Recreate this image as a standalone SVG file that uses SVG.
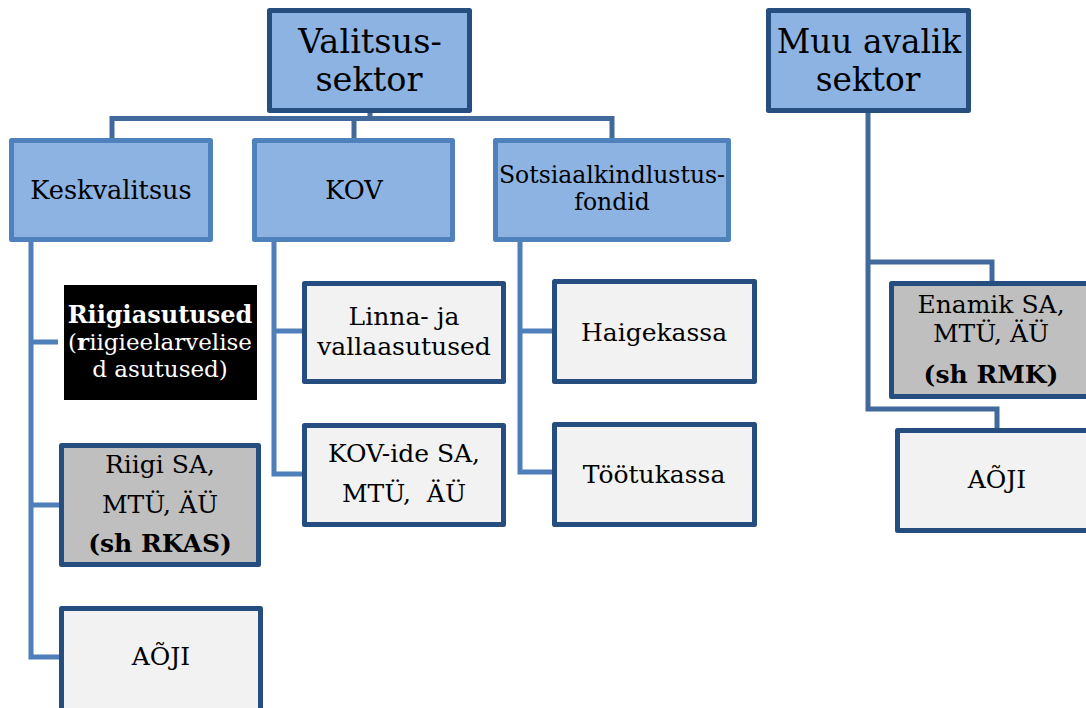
<svg xmlns="http://www.w3.org/2000/svg" width="1086" height="708" viewBox="0 0 1086 708">
<style>
  .t { font-family: "DejaVu Serif", "Liberation Serif", serif; fill: #000; text-anchor: middle; }
  .w { fill: #ffffff; }
  .top { fill: #8db3e2; stroke: #264f80; stroke-width: 5; stroke-linejoin: round; }
  .mid { fill: #8db3e2; stroke: #4f81bd; stroke-width: 5; stroke-linejoin: round; }
  .leaf { fill: #f2f2f2; stroke: #254d80; stroke-width: 5; stroke-linejoin: round; }
  .gray { fill: #bfbfbf; stroke: #254d80; stroke-width: 5; stroke-linejoin: round; }
  .c1 { fill: none; stroke: #41699b; stroke-width: 5; }
  .c2 { fill: none; stroke: #4f7fba; stroke-width: 5; }
  .b { font-weight: bold; }
</style>
<rect width="1086" height="708" fill="#ffffff"/>
<g id="connectors">
  <path class="c1" d="M370 113 V118.5 M112 138 V118.5 H612 V138 M354 118.5 V138"/>
  <path class="c1" d="M868 113 V409 H997 V428 M868 262 H992 V281"/>
  <path class="c2" d="M31 242 V657 H59 M31 342 H58 M31 505 H59"/>
  <path class="c2" d="M274 242 V474 H302 M274 331 H302"/>
  <path class="c2" d="M520 242 V472 H552 M520 331 H552"/>
</g>
<g id="valitsussektor">
  <rect class="top" x="269.5" y="10.5" width="200" height="100"/>
  <text class="t" x="370" y="53" font-size="33.6">Valitsus-</text>
  <text class="t" x="369" y="91" font-size="33.6">sektor</text>
</g>
<g id="muu-avalik-sektor">
  <rect class="top" x="768.5" y="10.5" width="200" height="100"/>
  <text class="t" x="869" y="53" font-size="32.8">Muu avalik</text>
  <text class="t" x="868" y="91" font-size="32.8">sektor</text>
</g>
<g id="keskvalitsus">
  <rect class="mid" x="11.5" y="140.5" width="199" height="99"/>
  <text class="t" x="111" y="199" font-size="25.6">Keskvalitsus</text>
</g>
<g id="kov">
  <rect class="mid" x="254.5" y="140.5" width="198" height="99"/>
  <text class="t" x="354" y="199" font-size="25.6">KOV</text>
</g>
<g id="sotsiaalkindlustusfondid">
  <rect class="mid" x="495.5" y="140.5" width="233" height="99"/>
  <text class="t" x="612" y="183" font-size="23.5">Sotsiaalkindlustus-</text>
  <text class="t" x="612" y="210" font-size="23.5">fondid</text>
</g>
<g id="riigiasutused">
  <rect x="64" y="285" width="193" height="115" fill="#000000"/>
  <text class="t b w" x="160" y="323" font-size="24">Riigiasutused</text>
  <text class="t w" x="160" y="350" font-size="23">(<tspan class="b">r</tspan>iigieelarvelise</text>
  <text class="t w" x="160" y="377" font-size="23">d asutused)</text>
</g>
<g id="riigi-sa">
  <rect class="gray" x="61.5" y="445.5" width="197" height="119"/>
  <text class="t" x="160" y="473" font-size="25">Riigi SA,</text>
  <text class="t" x="160" y="513" font-size="25">MTÜ, ÄÜ</text>
  <text class="t b" x="160" y="552" font-size="25">(sh RKAS)</text>
</g>
<g id="aoji-left">
  <rect class="leaf" x="61.5" y="608.5" width="199" height="110"/>
  <text class="t" x="161" y="665" font-size="25">AÕJI</text>
</g>
<g id="linna-ja-vallaasutused">
  <rect class="leaf" x="304.5" y="283.5" width="199" height="98"/>
  <text class="t" x="404" y="325" font-size="25">Linna- ja</text>
  <text class="t" x="404" y="355" font-size="25">vallaasutused</text>
</g>
<g id="kov-ide-sa">
  <rect class="leaf" x="304.5" y="425.5" width="199" height="99"/>
  <text class="t" x="404" y="462" font-size="25">KOV-ide SA,</text>
  <text class="t" x="404" y="502" font-size="25" xml:space="preserve">MTÜ,  ÄÜ</text>
</g>
<g id="haigekassa">
  <rect class="leaf" x="554.5" y="281.5" width="200" height="100"/>
  <text class="t" x="654" y="341" font-size="25">Haigekassa</text>
</g>
<g id="tootukassa">
  <rect class="leaf" x="554.5" y="424.5" width="200" height="100"/>
  <text class="t" x="654" y="483" font-size="25">Töötukassa</text>
</g>
<g id="enamik-sa">
  <rect class="gray" x="891.5" y="283.5" width="200" height="113"/>
  <text class="t" x="991" y="313" font-size="25">Enamik SA,</text>
  <text class="t" x="991" y="342" font-size="25">MTÜ, ÄÜ</text>
  <text class="t b" x="991" y="383" font-size="25">(sh RMK)</text>
</g>
<g id="aoji-right">
  <rect class="leaf" x="897.5" y="430.5" width="200" height="100"/>
  <text class="t" x="997" y="488" font-size="25">AÕJI</text>
</g>
</svg>
